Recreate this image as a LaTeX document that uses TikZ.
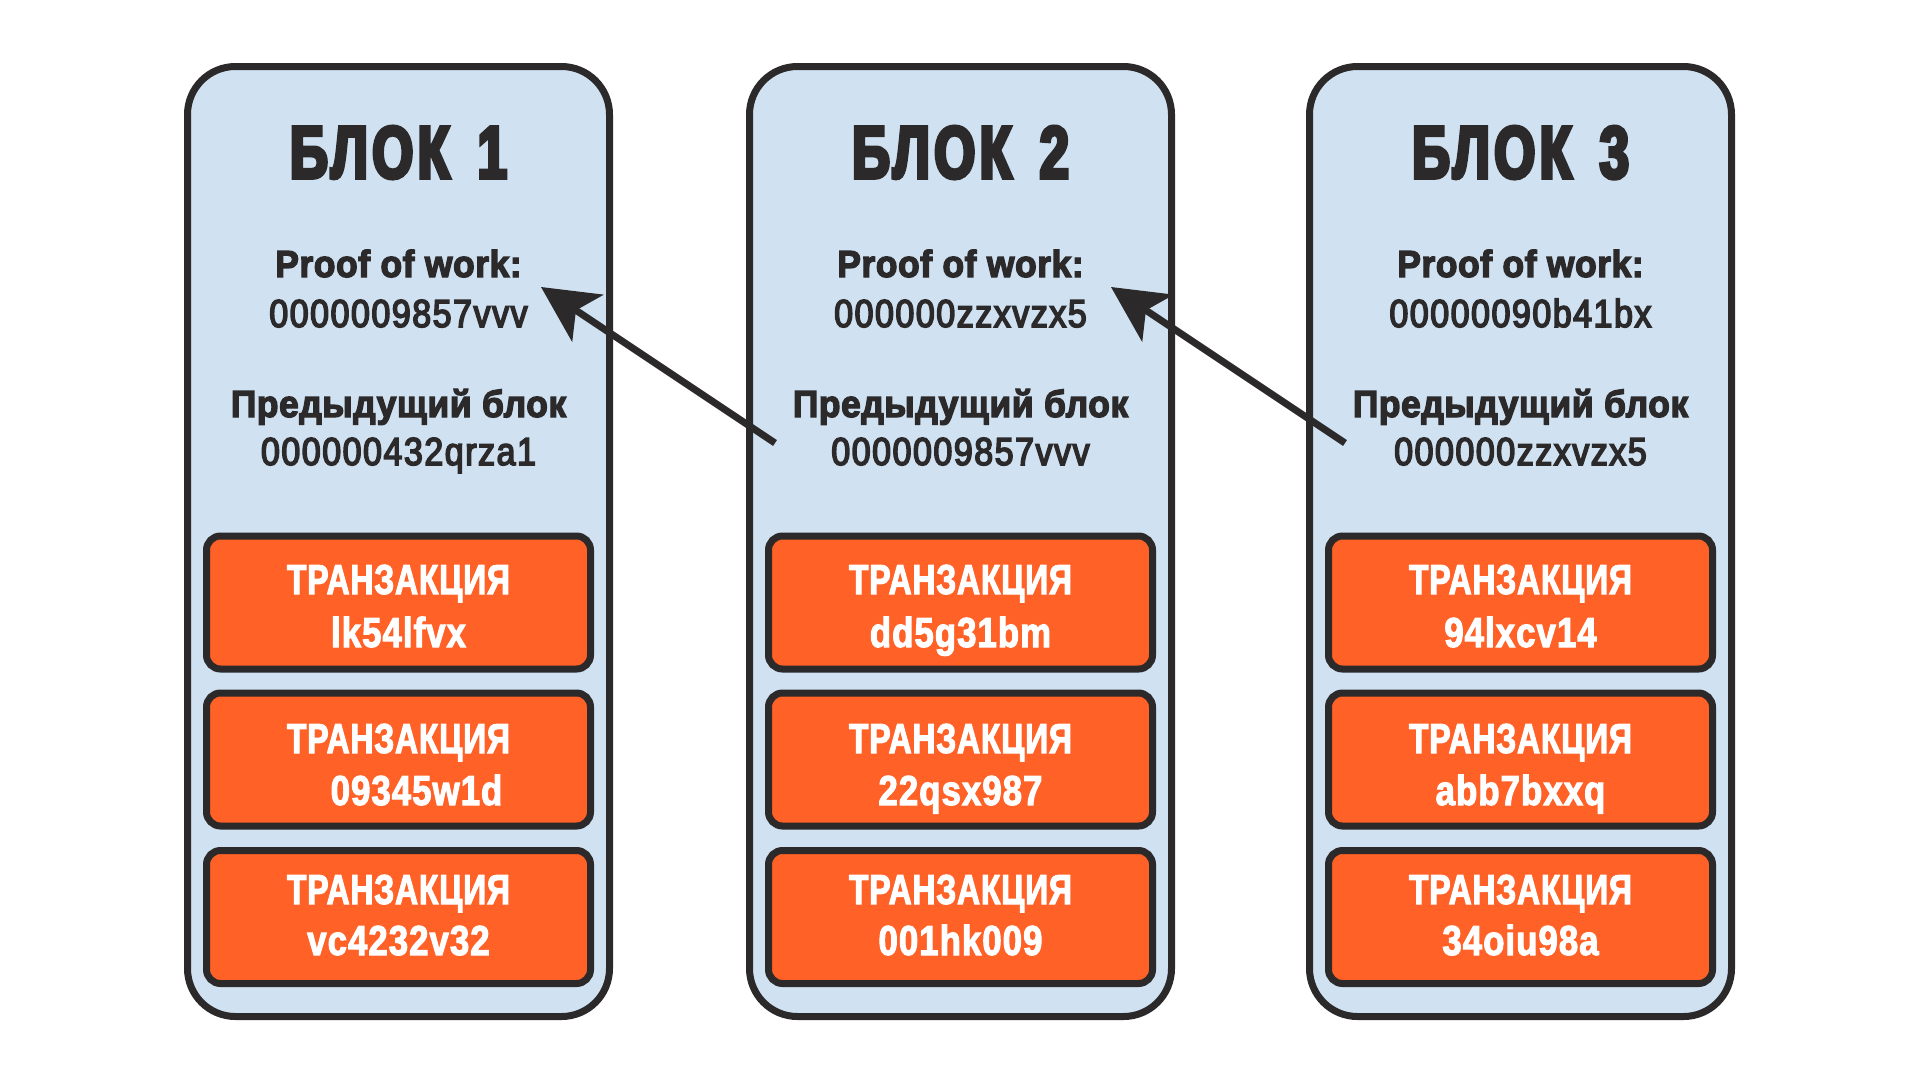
\documentclass[tikz,border=0pt]{standalone}
\usepackage{fontspec}
\setmainfont{Liberation Sans}
\newfontfamily\titlefont{Liberation Sans}[FakeStretch=0.71,FakeBold=5,LetterSpace=6]
\newfontfamily\labfont{Liberation Sans}[FakeStretch=0.94,FakeBold=3.5,LetterSpace=1.5]
\newfontfamily\numfont{Liberation Sans}[FakeStretch=0.87,FakeBold=4,LetterSpace=4]
\newfontfamily\trfont{Liberation Sans}[FakeStretch=0.76,FakeBold=2.5,LetterSpace=2]
\newfontfamily\trnumfont{Liberation Sans}[FakeStretch=0.83,FakeBold=2.5,LetterSpace=2.5]
\usetikzlibrary{arrows.meta}
\definecolor{blockfill}{RGB}{208,226,242}
\definecolor{ink}{RGB}{43,41,41}
\definecolor{orangefill}{RGB}{255,97,38}
\tikzset{
  blockbox/.style={draw=ink, line width=7pt, fill=blockfill, rounded corners=48pt,
    minimum width=422pt, minimum height=950pt, inner sep=0pt},
  txbox/.style={draw=ink, line width=7pt, fill=orangefill, rounded corners=14pt,
    minimum width=384pt, minimum height=133pt, inner sep=0pt},
  basetext/.style={anchor=base, inner sep=0pt, text=ink},
  titletext/.style={basetext, font=\titlefont\bfseries\fontsize{74}{80}\selectfont},
  labtext/.style={basetext, font=\labfont\bfseries\fontsize{37.7}{40}\selectfont},
  numtext/.style={basetext, font=\numfont\fontsize{39}{42}\selectfont},
  trtext/.style={anchor=base, inner sep=0pt, text=white, font=\trfont\bfseries\fontsize{41.9}{44}\selectfont},
  trnumtext/.style={anchor=base, inner sep=0pt, text=white, font=\trnumfont\bfseries\fontsize{41.9}{44}\selectfont},
  chainarrow/.style={draw=ink, line width=7pt, -{Stealth[length=56pt,width=56pt,inset=14pt]}}
}
\newcommand\drawchainblock[9]{%
  % #1 index, #2 x centre, #3 pow, #4 prev, #5-#7 tx ids, #8 xshift of tx2 id, #9 block number
  \node[blockbox] (b#1) at (#2,541.5) {};
  \node[titletext] (b#1title) at (#2,178) {БЛОК \hspace{9pt}#9};
  \node[labtext] (b#1powlab) at (#2,277) {Proof of work:};
  \node[numtext] (b#1pow) at (#2,327) {#3};
  \node[labtext] (b#1prevlab) at (#2,417) {Предыдущий блок};
  \node[numtext] (b#1prev) at (#2,465) {#4};
  \node[txbox] (b#1t1) at (#2,602.5) {};
  \node[txbox] (b#1t2) at (#2,759.5) {};
  \node[txbox] (b#1t3) at (#2,917) {};
  \node[trtext] (b#1t1a) at (#2,594) {ТРАНЗАКЦИЯ};
  \node[trnumtext] (b#1t1b) at (#2,647) {#5};
  \node[trtext] (b#1t2a) at (#2,753) {ТРАНЗАКЦИЯ};
  \node[trnumtext, xshift=#8pt] (b#1t2b) at (#2,805) {#6};
  \node[trtext] (b#1t3a) at (#2,904) {ТРАНЗАКЦИЯ};
  \node[trnumtext] (b#1t3b) at (#2,955) {#7};
}
\begin{document}
\begin{tikzpicture}[x=1pt,y=-1pt]
\path[use as bounding box] (0,0) rectangle (1920,1080);
\drawchainblock{1}{398.5}{0000009857vvv}{000000432qrza1}{lk54lfvx}{09345w1d}{vc4232v32}{18}{1}
\drawchainblock{2}{960.5}{000000zzxvzx5}{0000009857vvv}{dd5g31bm}{22qsx987}{001hk009}{0}{2}
\drawchainblock{3}{1520.5}{00000090b41bx}{000000zzxvzx5}{94lxcv14}{abb7bxxq}{34oiu98a}{0}{3}
\coordinate (a1s) at (775,443);
\coordinate (a1e) at (541,287);
\coordinate (a2s) at (1345,443);
\coordinate (a2e) at (1111,287);
\draw[chainarrow] (a1s) -- (a1e);
\draw[chainarrow] (a2s) -- (a2e);
\end{tikzpicture}
\end{document}
